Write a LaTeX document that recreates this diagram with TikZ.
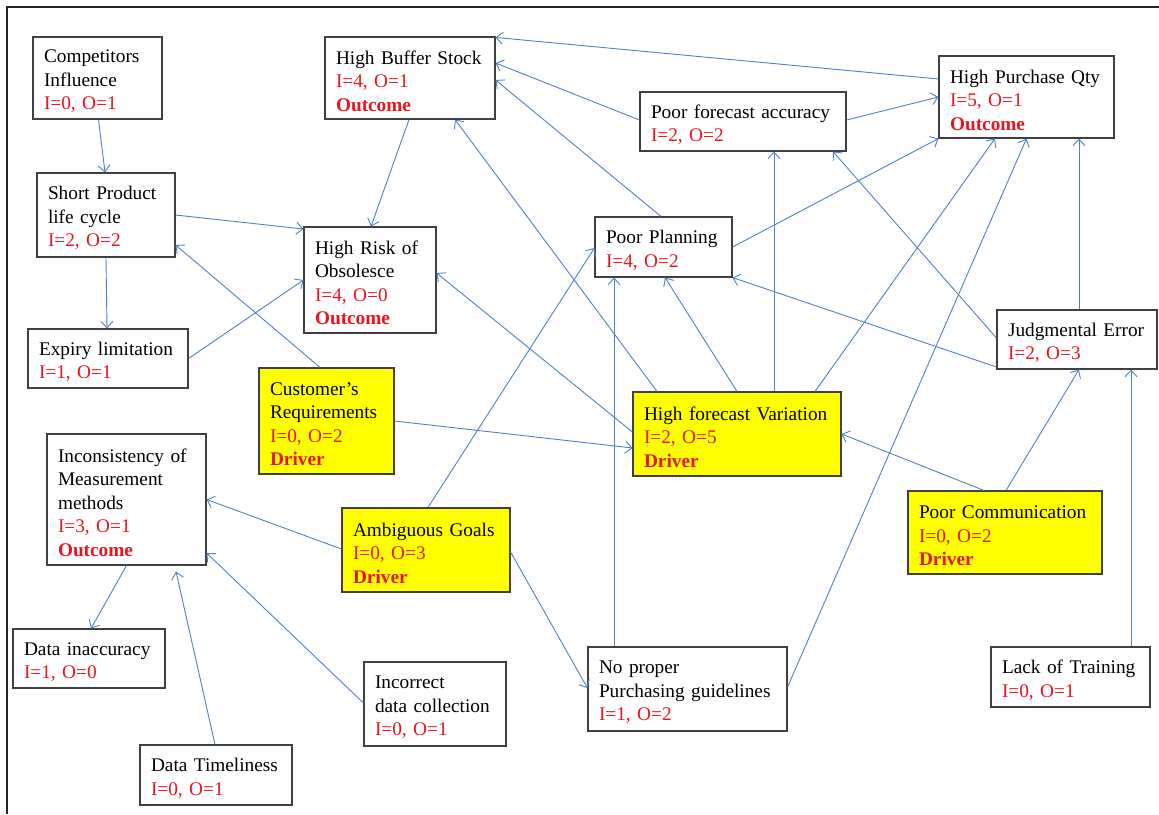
\documentclass[tikz,border=0pt]{standalone}
\usepackage{fontspec}
\setmainfont{Liberation Serif}
\usetikzlibrary{arrows.meta}
\definecolor{arrc}{RGB}{79,129,189}
\definecolor{boxc}{RGB}{64,64,64}
\definecolor{redt}{RGB}{235,20,30}
\definecolor{ylw}{RGB}{255,255,0}
\newcommand\rd[1]{\textcolor{redt}{#1}}
\newcommand\rb[1]{\textcolor{redt}{\bfseries #1}}
\begin{document}
\begin{tikzpicture}[x=1pt,y=-1pt,
  box/.style={draw=boxc, line width=1.1pt, fill=white, inner xsep=11pt, inner ysep=0pt,
    align=left, font=\fontsize{19.3}{23.5}\selectfont,
    execute at begin node={\rule{0pt}{19.5pt}}},
  drv/.style={box, fill=ylw},
  arr/.style={draw=arrc, line width=0.9pt, -{Straight Barb[length=6.5pt,width=12pt]}}]
\useasboundingbox (0,0) rectangle (1159,814);
\draw[line width=2pt, black!85] (7,814) -- (7,7) -- (1159,7);

% nodes
\node[box, text width=107pt, minimum height=82pt] (comp) at (97.5,78) {Competitors\\Influence\\\rd{I=0, O=1}};
\node[box, text width=148pt, minimum height=82pt] (hbs) at (410,78) {High Buffer Stock\\\rd{I=4, O=1}\\\rb{Outcome}};
\node[box, text width=116pt, minimum height=84pt] (spl) at (106,215) {Short Product\\life cycle\\\rd{I=2, O=2}};
\node[box, text width=110pt, minimum height=106pt] (hro) at (370,280) {High Risk of\\Obsolesce\\\rd{I=4, O=0}\\\rb{Outcome}};
\node[box, text width=138pt, minimum height=59pt] (exp) at (108,358.5) {Expiry limitation\\\rd{I=1, O=1}};
\node[drv, text width=113pt, minimum height=106pt] (cus) at (326.5,421) {Customer’s\\Requirements\\\rd{I=0, O=2}\\\rb{Driver}};
\node[box, text width=137pt, minimum height=131pt] (inc) at (126.5,499.5) {Inconsistency of\\Measurement\\methods\\\rd{I=3, O=1}\\\rb{Outcome}};
\node[drv, text width=146pt, minimum height=84pt] (amb) at (426,550) {Ambiguous Goals\\\rd{I=0, O=3}\\\rb{Driver}};
\node[box, text width=130pt, minimum height=59pt] (dia) at (89,658.5) {Data inaccuracy\\\rd{I=1, O=0}};
\node[box, text width=120pt, minimum height=84pt] (idc) at (435,704) {Incorrect\\data collection\\\rd{I=0, O=1}};
\node[box, text width=130pt, minimum height=60pt] (dtl) at (216,775) {Data Timeliness\\\rd{I=0, O=1}};
\node[box, text width=184pt, minimum height=59pt] (pfa) at (743,121.5) {Poor forecast accuracy\\\rd{I=2, O=2}};
\node[box, text width=153pt, minimum height=82pt] (hpq) at (1026.5,97) {High Purchase Qty\\\rd{I=5, O=1}\\\rb{Outcome}};
\node[box, text width=115pt, minimum height=60pt] (ppl) at (663.5,247) {Poor Planning\\\rd{I=4, O=2}};
\node[box, text width=138pt, minimum height=59pt] (jde) at (1077,339.5) {Judgmental Error\\\rd{I=2, O=3}};
\node[drv, text width=186pt, minimum height=84pt] (hfv) at (737,434) {High forecast Variation\\\rd{I=2, O=5}\\\rb{Driver}};
\node[drv, text width=172pt, minimum height=83pt] (pco) at (1005,532.5) {Poor Communication\\\rd{I=0, O=2}\\\rb{Driver}};
\node[box, text width=177pt, minimum height=84pt] (npg) at (687.5,689) {No proper\\Purchasing guidelines\\\rd{I=1, O=2}};
\node[box, text width=137pt, minimum height=60pt] (lot) at (1070.5,677) {Lack of Training\\\rd{I=0, O=1}};

% connectors
\draw[arr] ([xshift=1pt]comp.south) -- ([xshift=-1pt]spl.north);
\draw[arr] (spl.south) -- ([xshift=-1pt]exp.north);
\draw[arr] (spl.east) -- ([yshift=51pt]hro.west);
\draw[arr] (exp.east) -- (hro.west);
\draw[arr] ([xshift=-1pt]hbs.south) -- ([xshift=1pt]hro.north);
\draw[arr] ([xshift=-6.5pt]cus.north) -- ([yshift=-30pt]spl.east);
\draw[arr] (cus.east) -- ([yshift=-14pt]hfv.west);
\draw[arr] ([yshift=2pt]hfv.west) -- ([yshift=7pt]hro.east);
\draw[arr] ([xshift=-80pt]hfv.north) -- ([xshift=45pt]hbs.south);
\draw[arr] (hfv.north) -- ([xshift=1.5pt]ppl.south);
\draw[arr] ([xshift=37pt]hfv.north) -- ([xshift=31pt]pfa.south);
\draw[arr] ([xshift=78pt]hfv.north) -- ([xshift=-31.5pt]hpq.south);
\draw[arr] ([xshift=-2.5pt]ppl.north) -- ([yshift=-2pt]hbs.east);
\draw[arr] ([yshift=1.5pt]pfa.west) -- ([yshift=15pt]hbs.east);
\draw[arr] ([yshift=18pt]hpq.west) -- ([yshift=-1pt]hbs.north east);
\draw[arr] ([yshift=1.5pt]pfa.east) -- (hpq.west);
\draw[arr] (ppl.east) -- (hpq.south west);
\draw[arr] ([xshift=2pt]jde.north) -- ([xshift=52.5pt]hpq.south);
\draw[arr] ([yshift=1.5pt]jde.west) -- ([xshift=90pt]pfa.south);
\draw[arr] ([yshift=-27.5pt]jde.west) -- (ppl.south east);
\draw[arr] ([xshift=-21pt]pco.north) -- (hfv.east);
\draw[arr] ([xshift=1pt]pco.north) -- ([xshift=2pt]jde.south);
\draw[arr] ([xshift=60.5pt]lot.north) -- ([xshift=54pt]jde.south);
\draw[arr] ([xshift=-73.5pt]npg.north) -- ([xshift=-49.5pt]ppl.south);
\draw[arr] ([yshift=2pt]npg.east) -- (hpq.south);
\draw[arr] ([xshift=2pt]amb.north) -- ([yshift=-1pt]ppl.west);
\draw[arr] ([yshift=1pt]amb.west) -- (inc.east);
\draw[arr] ([yshift=-2pt]amb.east) -- ([yshift=1pt]npg.west);
\draw[arr] (inc.south) -- ([xshift=2pt]dia.north);
\draw[arr] ([yshift=1pt]idc.west) -- ([yshift=-53.5pt]inc.east);
\draw[arr] ([xshift=-1pt]dtl.north) -- ([xshift=49.5pt,yshift=-6pt]inc.south);
\end{tikzpicture}
\end{document}
